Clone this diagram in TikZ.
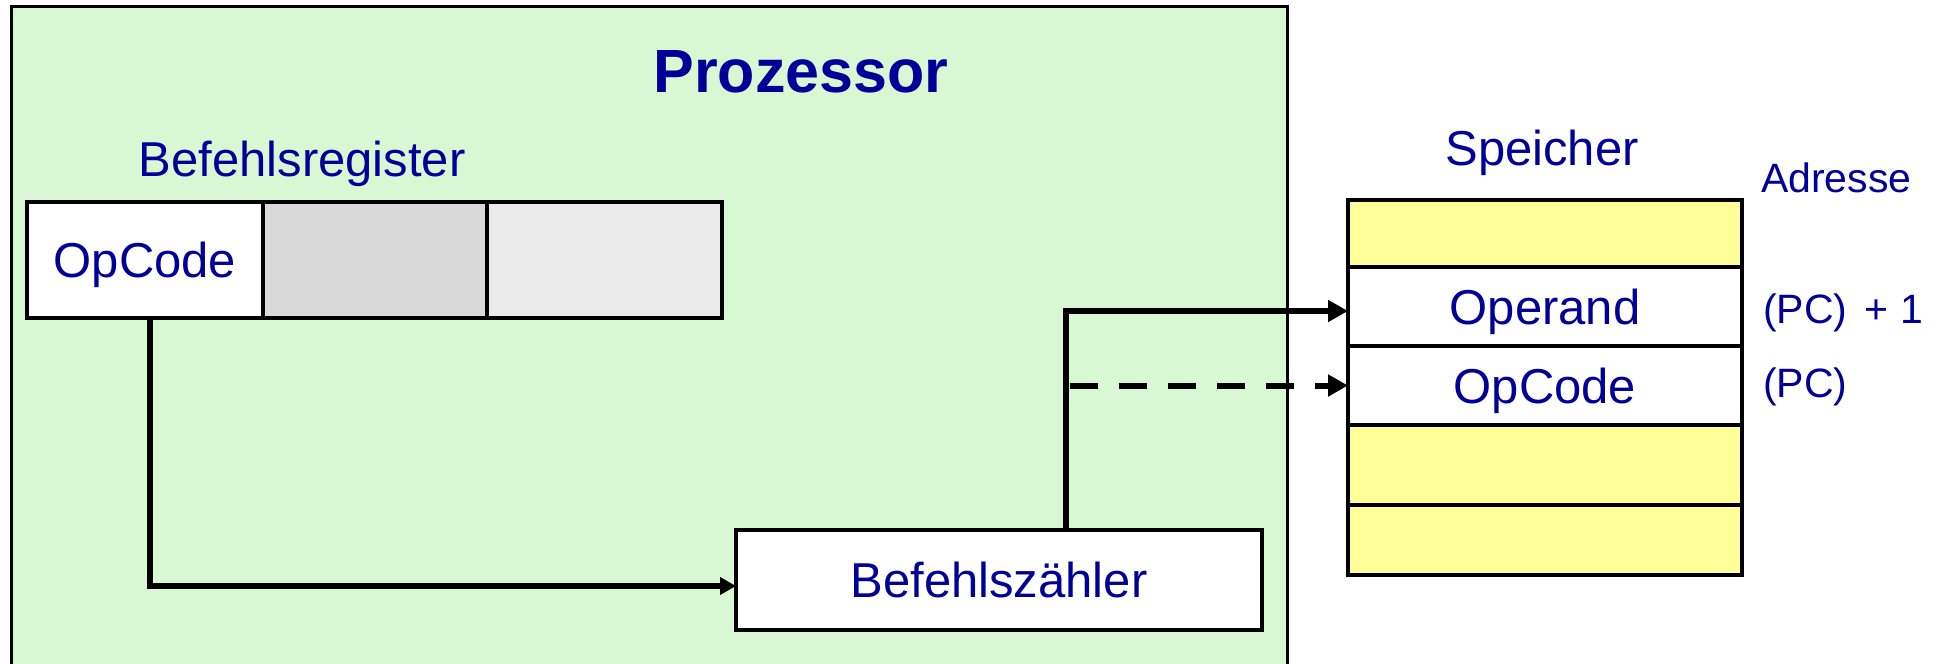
\documentclass[tikz,border=0pt]{standalone}
\usepackage{fontspec}
\setmainfont{Liberation Sans}
\usetikzlibrary{arrows.meta}
\definecolor{txtblue}{RGB}{0,0,153}
\definecolor{procgreen}{RGB}{216,248,212}
\definecolor{memyellow}{RGB}{255,255,153}
\definecolor{regmid}{RGB}{217,217,217}
\definecolor{regright}{RGB}{234,234,234}
\newcommand\mainsz{\fontsize{49pt}{58pt}\selectfont}
\newcommand\addrsz{\fontsize{41pt}{48pt}\selectfont}
\newcommand\titlesz{\fontsize{61pt}{72pt}\selectfont\bfseries}
\begin{document}
\begin{tikzpicture}[x=1pt,y=-1pt,
  procbox/.style={draw=black, line width=3pt, fill=procgreen, inner sep=0pt, outer sep=0pt},
  cell/.style={draw=black, line width=4pt, inner sep=0pt, outer sep=0pt, text=txtblue, font=\mainsz, text height=35pt, text depth=0pt},
  lbl/.style={inner sep=0pt, outer sep=0pt, text=txtblue, font=\mainsz, anchor=base},
  addr/.style={inner sep=0pt, outer sep=0pt, text=txtblue, font=\addrsz, anchor=base west},
  conn/.style={line width=6pt, draw=black},
  ]
\useasboundingbox (0,0) rectangle (1936,664);
\clip (0,0) rectangle (1936,664);
\fill[white] (0,0) rectangle (1936,664);
% processor container
\node[procbox, minimum width=1276pt, minimum height=714pt] (proc) at (649,363) {};
\node[lbl, font=\titlesz] (title) at (801,92) {Prozessor};
\node[lbl] (breg) at (302,176) {Befehlsregister};
% instruction register
\node[cell, fill=white, minimum width=236pt, minimum height=116pt] (r1) at (145,260) {OpCode};
\node[cell, fill=regmid, minimum width=224pt, minimum height=116pt] (r2) at (375,260) {};
\node[cell, fill=regright, minimum width=235pt, minimum height=116pt] (r3) at (604.5,260) {};
% program counter
\node[cell, line width=3.5pt, fill=white, minimum width=526pt, minimum height=100pt] (bz) at (999,580) {Befehlsz\"ahler};
% memory
\node[lbl] (spk) at (1542,165) {Speicher};
\node[addr] (adr) at (1761,192) {Adresse};
\node[cell, fill=memyellow, minimum width=394pt, minimum height=67pt] (m1) at (1545,233.5) {};
\node[cell, fill=white, minimum width=394pt, minimum height=79pt] (m2) at (1545,306.5) {Operand};
\node[cell, fill=white, minimum width=394pt, minimum height=79pt] (m3) at (1545,385.5) {OpCode};
\node[cell, fill=memyellow, minimum width=394pt, minimum height=80pt] (m4) at (1545,465) {};
\node[cell, fill=memyellow, minimum width=394pt, minimum height=70pt] (m5) at (1545,540) {};
\node[addr] (pc1) at (1763,323) {(PC)\hspace{6pt} + 1};
\node[addr] (pc0) at (1763,397) {(PC)};
% connectors
\coordinate (jbot) at (149.5,586);
\draw[conn, -{Triangle[length=16pt,width=17pt]}] (r1.south -| jbot) -- (jbot) -- (jbot -| bz.west);
\coordinate (jtop) at (1066,311);
\draw[conn, -{Triangle[length=20pt,width=21pt]}] (jtop |- bz.north) -- (jtop) -- (jtop -| m2.west);
\coordinate (jdash) at (1070,385.5);
\draw[conn, dash pattern=on 28pt off 21pt, -{Triangle[length=20pt,width=21pt]}] (jdash) -- (jdash -| m3.west);
\end{tikzpicture}
\end{document}
